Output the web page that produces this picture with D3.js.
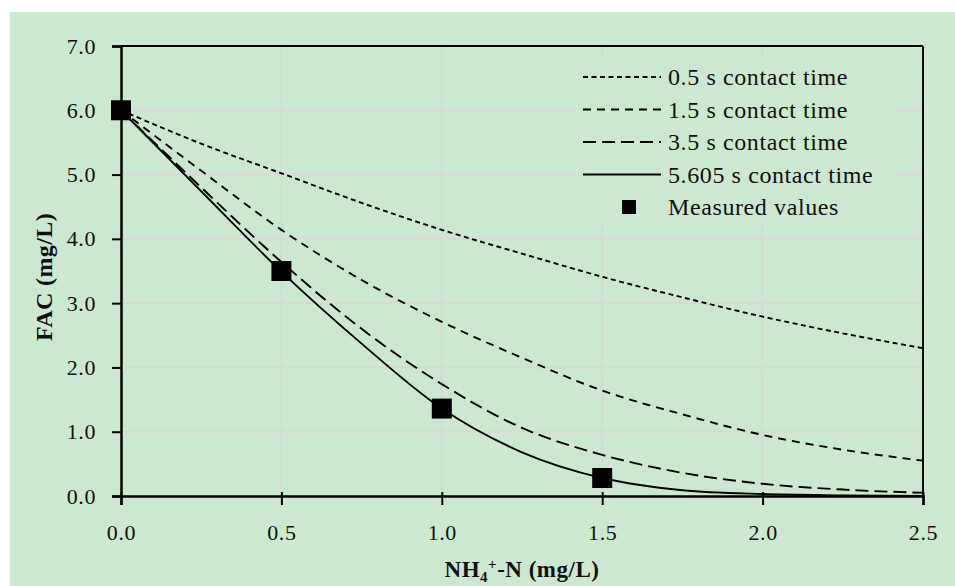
<!DOCTYPE html>
<html><head><meta charset="utf-8">
<script src="https://cdn.jsdelivr.net/npm/d3@7"></script>
<style>
html,body{margin:0;padding:0;background:#fff;}
svg{display:block;}
text{font-family:"Liberation Serif","Times New Roman",serif;fill:#111;}
</style></head>
<body><svg id="chart" width="955" height="586"></svg>
<script>
// ---- data ----
const xValues = [0, 0.25, 0.5, 0.75, 1.0, 1.25, 1.5, 1.75, 2.0, 2.25, 2.5];
const fac05   = [6.00, 5.48, 5.02, 4.56, 4.14, 3.77, 3.41, 3.09, 2.79, 2.53, 2.30];
const fac15   = [6.00, 5.06, 4.14, 3.36, 2.71, 2.15, 1.64, 1.27, 0.95, 0.72, 0.55];
const fac35   = [6.00, 4.80, 3.64, 2.60, 1.74, 1.06, 0.64, 0.36, 0.19, 0.10, 0.05];
const fac5605 = [6.00, 4.74, 3.49, 2.37, 1.36, 0.68, 0.28, 0.09, 0.03, 0.01, 0.00];
const measuredX = [0, 0.5, 1.0, 1.5];
const measuredY = [6.0, 3.5, 1.36, 0.28];
const seriesNames = ["0.5 s contact time", "1.5 s contact time", "3.5 s contact time", "5.605 s contact time"];
const measuredName = "Measured values";
const xTicks = [0, 0.5, 1.0, 1.5, 2.0, 2.5];
const yTicks = [0, 1, 2, 3, 4, 5, 6, 7];
const yTitle = "FAC (mg/L)";

// ---- layout ----
const svg = d3.select("#chart");
const bg = "#cde8d0";
const FONT = "Liberation Serif, Times New Roman, serif";
const m = {left:121, right:923, top:46, bottom:496};
svg.append("rect").attr("x",10).attr("y",12).attr("width",945).attr("height",574).attr("fill",bg);

const x = d3.scaleLinear().domain([0,2.5]).range([m.left, m.right]);
const y = d3.scaleLinear().domain([0,7]).range([m.bottom, m.top]);

// gridlines
const grid = svg.append("g").attr("stroke","#d8d8d8").attr("stroke-width",2);
xTicks.slice(1,-1).forEach(t=>grid.append("line").attr("x1",x(t)).attr("x2",x(t)).attr("y1",m.top).attr("y2",m.bottom));
yTicks.slice(1,-1).forEach(t=>grid.append("line").attr("x1",m.left).attr("x2",m.right).attr("y1",y(t)).attr("y2",y(t)));

// legend background box (covers gridlines)
svg.append("rect").attr("x",575).attr("y",58).attr("width",318).attr("height",164).attr("fill",bg);

// frame top/right
svg.append("line").attr("x1",m.left).attr("x2",m.right).attr("y1",m.top).attr("y2",m.top).attr("stroke","#000").attr("stroke-width",2);
svg.append("line").attr("x1",m.right).attr("x2",m.right).attr("y1",m.top).attr("y2",m.bottom).attr("stroke","#000").attr("stroke-width",2);

// axes
const yAxis = svg.append("g").attr("transform",`translate(${m.left},0)`)
  .call(d3.axisLeft(y).tickValues(yTicks).tickFormat(d3.format(".1f")).tickSize(9).tickPadding(16));
const xAxis = svg.append("g").attr("transform",`translate(0,${m.bottom})`)
  .call(d3.axisBottom(x).tickValues(xTicks).tickFormat(d3.format(".1f")).tickSize(9).tickPadding(19));
[xAxis,yAxis].forEach(a=>{
  a.attr("font-family",FONT);
  a.selectAll("path.domain").attr("stroke","#000").attr("stroke-width",2.5);
  a.selectAll(".tick line").attr("stroke","#000").attr("stroke-width",2);
  a.selectAll(".tick text").attr("font-family",FONT).attr("font-size",22).attr("letter-spacing","0.6px").attr("fill","#111");
});
xAxis.selectAll(".tick line").attr("y1",-4);

// series
const styles = [
  {data:fac05,   dash:"5,3.5"},
  {data:fac15,   dash:"8,6"},
  {data:fac35,   dash:"13,6"},
  {data:fac5605, dash:null}
];
const line = d3.line().x(d=>x(d[0])).y(d=>y(d[1])).curve(d3.curveMonotoneX);
styles.forEach(s=>{
  svg.append("path").datum(xValues.map((v,i)=>[v,s.data[i]]))
    .attr("d",line).attr("fill","none").attr("stroke","#000").attr("stroke-width",1.9)
    .attr("stroke-dasharray",s.dash);
});

// measured markers
const msz = 20;
svg.append("g").selectAll("rect").data(measuredX.map((v,i)=>[v,measuredY[i]])).join("rect")
  .attr("x",d=>x(d[0])-msz/2).attr("y",d=>y(d[1])-msz/2).attr("width",msz).attr("height",msz).attr("fill","#000");

// legend
const lg = svg.append("g");
const rowY = [77, 109.5, 142, 174.5, 207];
styles.forEach((s,i)=>{
  lg.append("line").attr("x1",583).attr("x2",661).attr("y1",rowY[i]).attr("y2",rowY[i])
    .attr("stroke","#000").attr("stroke-width",1.9).attr("stroke-dasharray",s.dash);
  lg.append("text").attr("x",668).attr("y",rowY[i]).attr("dy","0.35em").attr("font-size",24)
    .attr("font-family",FONT).attr("letter-spacing","0.6px").text(seriesNames[i]);
});
lg.append("rect").attr("x",622).attr("y",rowY[4]-7).attr("width",14).attr("height",14).attr("fill","#000");
lg.append("text").attr("x",668).attr("y",rowY[4]).attr("dy","0.35em").attr("font-size",24)
  .attr("font-family",FONT).attr("letter-spacing","0.6px").text(measuredName);

// axis titles
const xt = svg.append("text").attr("x",(m.left+m.right)/2).attr("y",577).attr("text-anchor","middle")
  .attr("font-family",FONT).attr("font-size",23).attr("font-weight","bold").attr("letter-spacing","0.5px");
xt.append("tspan").text("NH");
xt.append("tspan").attr("font-size",15).attr("dy",5).text("4");
xt.append("tspan").attr("font-size",15).attr("dy",-13).text("+");
xt.append("tspan").attr("dy",8).text("-N (mg/L)");

svg.append("text").attr("transform","translate(52,277) rotate(-90)").attr("text-anchor","middle")
  .attr("font-family",FONT).attr("font-size",24).attr("font-weight","bold").attr("letter-spacing","0.4px").text(yTitle);
</script></body></html>
